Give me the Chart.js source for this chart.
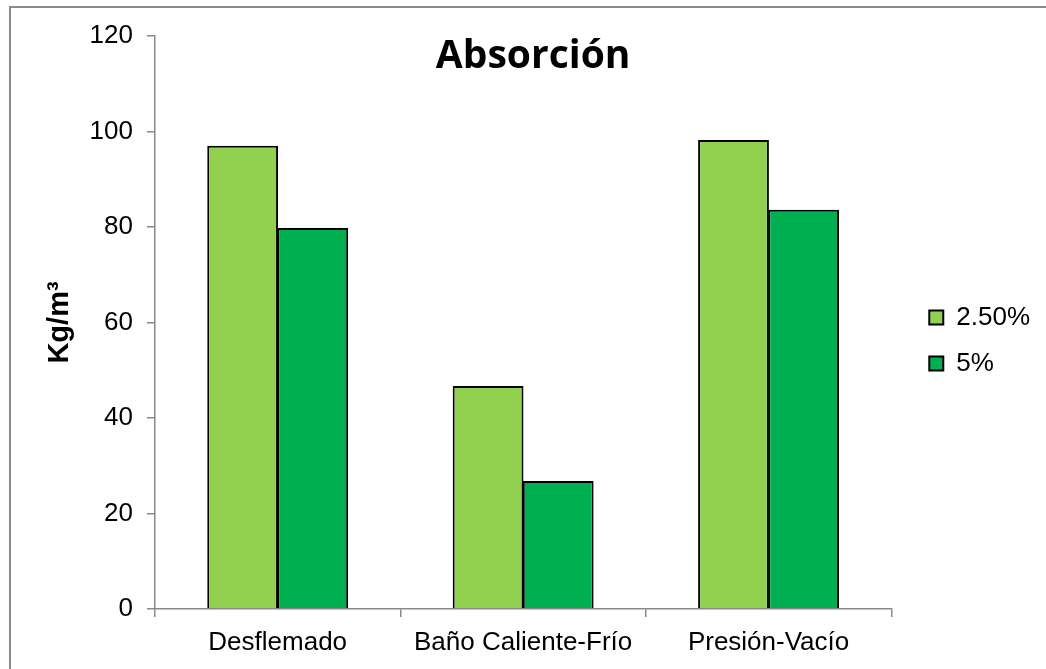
<!DOCTYPE html>
<html>
<head>
<meta charset="utf-8">
<script src="https://cdn.jsdelivr.net/npm/chart.js@4.4.1/dist/chart.umd.min.js"></script>
<style>
  html, body { margin: 0; padding: 0; background: #fff; }
  #wrap { position: relative; width: 1046px; height: 669px; overflow: hidden; }
  #frame { position: absolute; left: 9px; top: 6px; width: 1100px; height: 700px;
           border-left: 2px solid #8a8a8a; border-top: 2px solid #8a8a8a; }
  canvas { position: absolute; left: 0; top: 0; }
</style>
</head>
<body>
<div id="wrap">
  <div id="frame"></div>
  <canvas id="chart" width="1046" height="669"></canvas>
</div>
<script>
const categories = ['Desflemado', 'Baño Caliente-Frío', 'Presión-Vacío'];
const seriesNames = ['2.50%', '5%'];
const values25 = [97.0, 46.7, 98.2];
const values5 = [79.8, 26.8, 83.6];
const yTicks = [0, 20, 40, 60, 80, 100, 120];

const titleText = 'Absorción';
const FONT = "'Liberation Sans', Arial, sans-serif";

// chart title sits inside the plot area, as in the original
const innerTitle = {
  id: 'innerTitle',
  afterDraw(chart) {
    const { ctx, chartArea } = chart;
    ctx.save();
    ctx.font = "bold 39px 'Open Sans', sans-serif";
    ctx.fillStyle = '#000';
    ctx.textAlign = 'center';
    ctx.textBaseline = 'alphabetic';
    ctx.fillText(titleText, (chartArea.left + chartArea.right) / 2 + 10, chartArea.top + 32);
    ctx.restore();
  }
};

Chart.defaults.font.family = FONT;
Chart.defaults.color = '#000';

new Chart(document.getElementById('chart'), {
  type: 'bar',
  data: {
    labels: categories,
    datasets: [
      { label: seriesNames[0], data: values25, backgroundColor: '#92D050', borderColor: '#000', borderWidth: 2 },
      { label: seriesNames[1], data: values5, backgroundColor: '#00B050', borderColor: '#000', borderWidth: 2 }
    ]
  },
  options: {
    responsive: false,
    animation: false,
    layout: { padding: { left: 0, top: 36, right: 6, bottom: 0 } },
    datasets: { bar: { categoryPercentage: 0.5714, barPercentage: 1.01 } },
    plugins: {
      legend: {
        position: 'right',
        fullSize: false,
        title: { display: true, text: ' ', font: { size: 30, lineHeight: 1.2 }, padding: 0 },
        labels: { boxWidth: 14, boxHeight: 14, padding: 20, color: '#000', font: { size: 26, family: FONT } }
      },
      tooltip: { enabled: false }
    },
    scales: {
      x: {
        grid: { offset: true, drawOnChartArea: false, tickLength: 8, color: '#8a8a8a', lineWidth: 1.5 },
        border: { color: '#8a8a8a', width: 1.5 },
        ticks: { padding: 10, font: { size: 26 }, color: '#000' },
        afterFit: s => { s.height = 60; }
      },
      y: {
        min: 0, max: 120,
        afterBuildTicks: s => { s.ticks = yTicks.map(v => ({ value: v })); },
        grid: { drawOnChartArea: false, tickLength: 8, color: '#8a8a8a', lineWidth: 1.5 },
        border: { color: '#8a8a8a', width: 1.5 },
        ticks: { padding: 14, font: { size: 26 }, color: '#000' },
        title: { display: true, text: 'Kg/m³', color: '#000', font: { size: 29, weight: 'bold' }, padding: { top: 43, bottom: 0 } },
        afterFit: s => { s.width = 155; }
      },
      gap: {
        type: 'linear', position: 'right', display: true,
        grid: { display: false }, ticks: { display: false }, border: { display: false },
        afterFit: s => { s.width = 18; }
      }
    }
  },
  plugins: [innerTitle]
});
</script>
</body>
</html>
